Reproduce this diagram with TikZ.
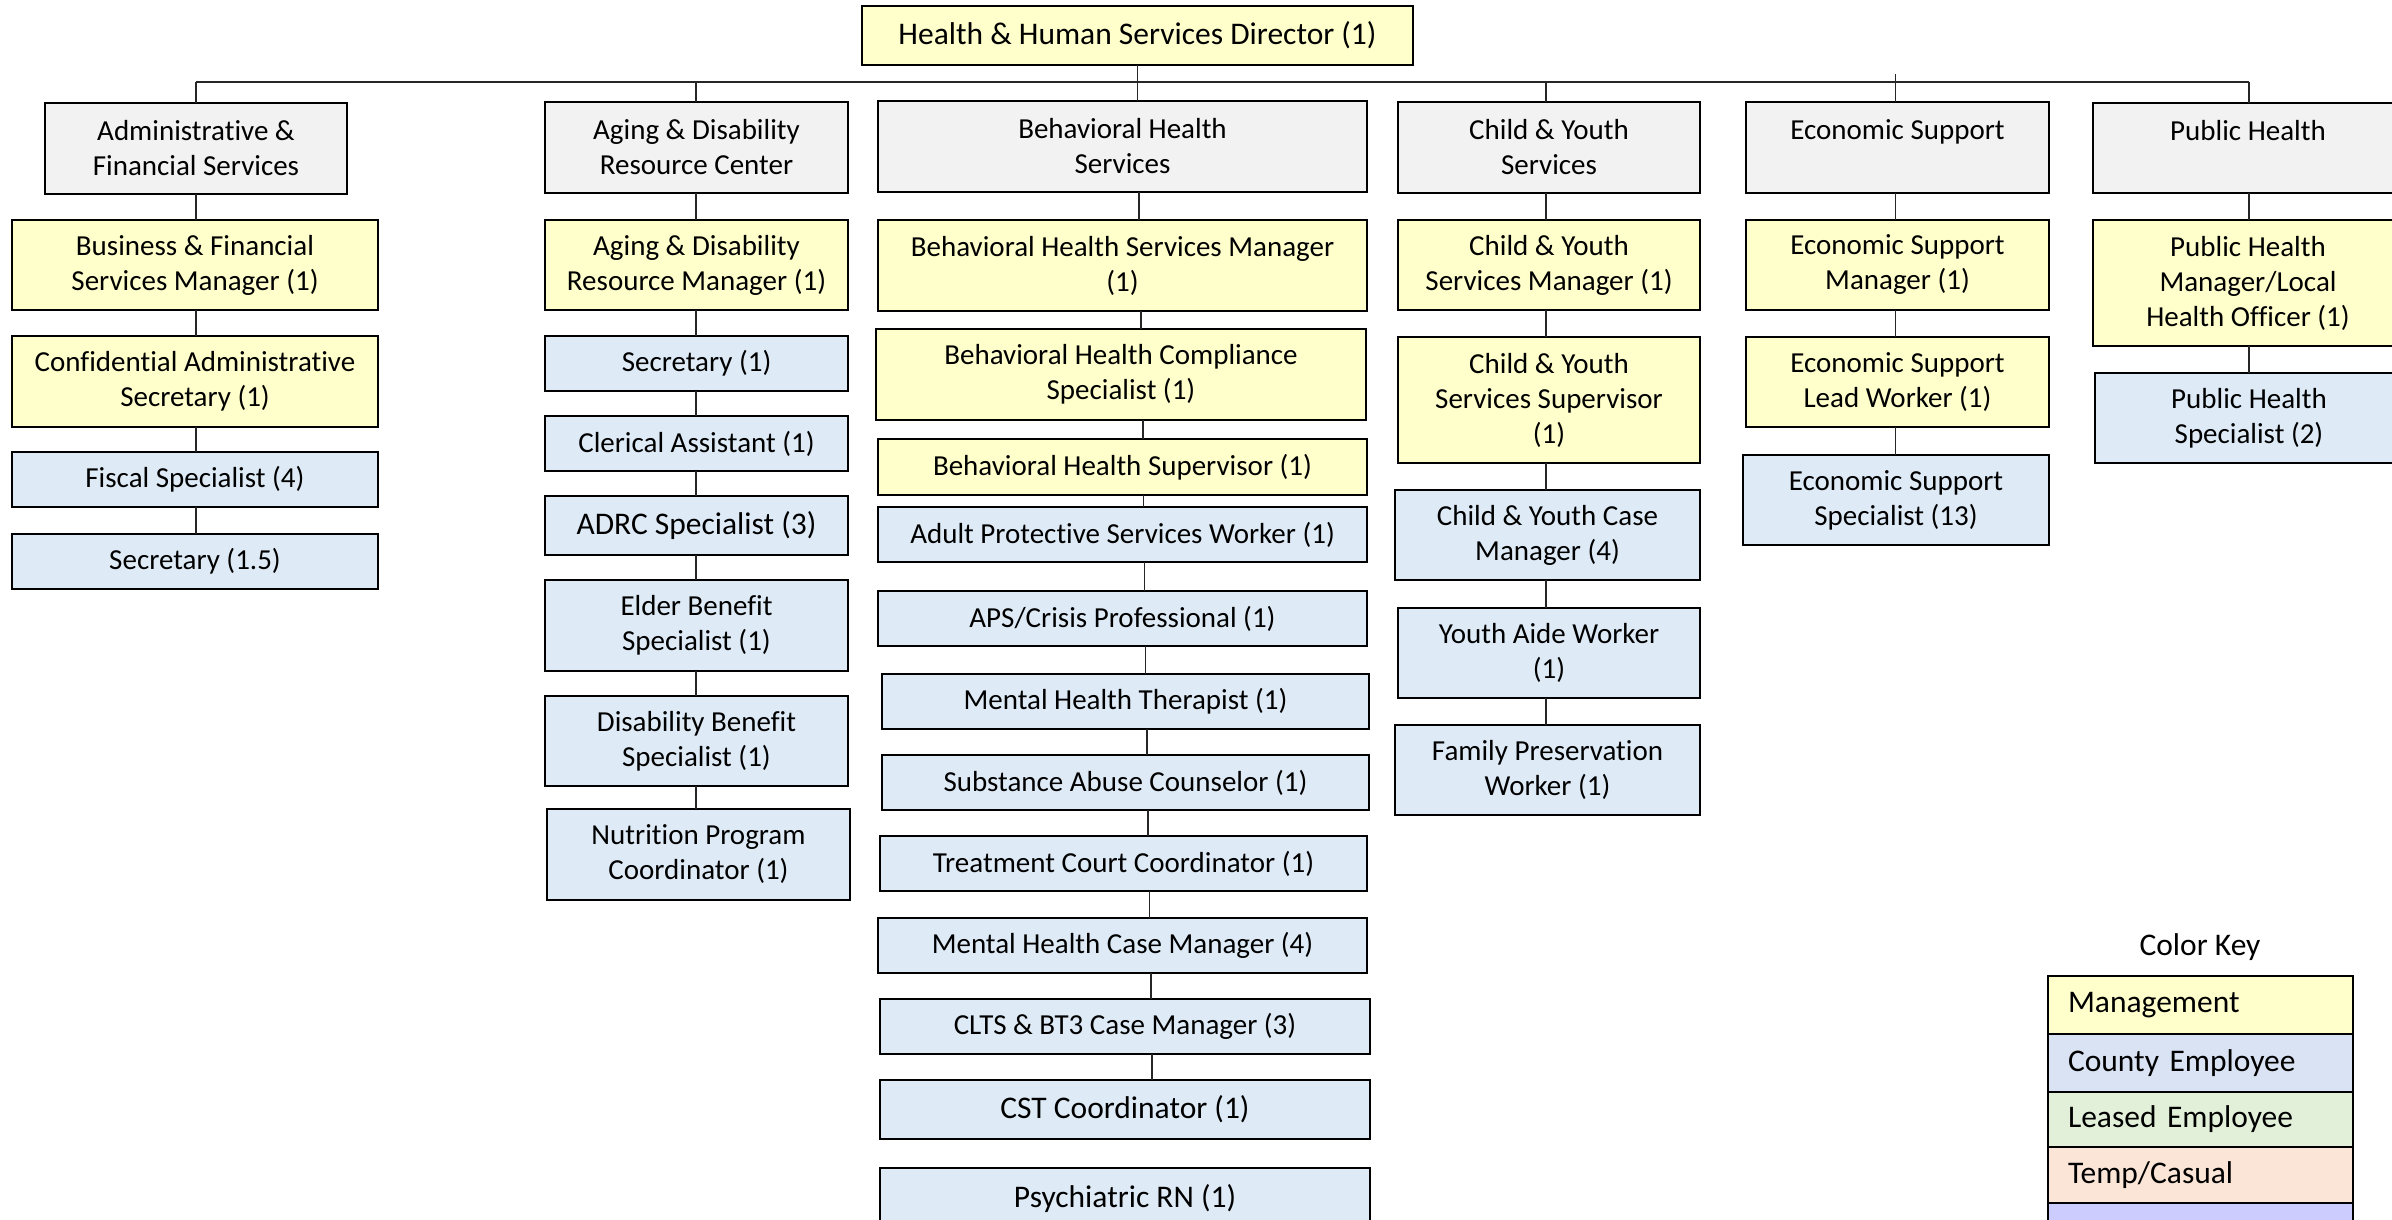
\documentclass[tikz,border=0pt]{standalone}
\usepackage{fontspec}
\setmainfont[Ligatures=NoCommon]{Carlito}
\definecolor{deptgray}{HTML}{F2F2F2}
\definecolor{mgryellow}{HTML}{FFFFCC}
\definecolor{staffblue}{HTML}{DEEBF7}
\definecolor{keyblue}{HTML}{DAE3F3}
\definecolor{keygreen}{HTML}{E2F0D9}
\definecolor{keypeach}{HTML}{FBE5D6}
\definecolor{keyviolet}{HTML}{CCCCFF}
\begin{document}
\begin{tikzpicture}[x=1pt,y=-1pt,
  % box={x1}{y1}{x2}{y2}: a rectangle given by its corners
  box/.style n args={4}{minimum width={(#3)-(#1)}, minimum height={(#4)-(#2)},
    at={({((#1)+(#3))/2},{((#2)+(#4))/2})}},
  unit/.style={draw=black, line width=2pt, inner sep=0pt, outer sep=0pt,
    align=center, text=black, font=\fontsize{29}{35}\selectfont},
  dept/.style={unit, fill=deptgray},
  mgr/.style={unit, fill=mgryellow},
  staff/.style={unit, fill=staffblue},
  big/.style={font=\fontsize{31.5}{37}\selectfont},
  conn/.style={line width=1.3pt, draw=black!85},
  keyrow/.style={draw=black, line width=2pt, outer sep=0pt, inner ysep=0pt,
    inner xsep=20pt, text width=265pt, align=left,
    font=\fontsize{31.5}{37}\selectfont}]

\path[use as bounding box] (0,0) rectangle (2392,1220);
\clip (0,0) rectangle (2392,1220);

% ---- director ----
\node[mgr, big, box={862}{6}{1413}{65}] (dir) {Health \& Human Services Director (1)};

% ---- Administrative & Financial Services ----
\node[dept,  box={45}{103}{347}{194}]  (adm)   {Administrative \&\\Financial Services};
\node[mgr,   box={12}{220}{378}{310}]  (bfsm)  {Business \& Financial\\Services Manager (1)};
\node[mgr,   box={12}{336}{378}{427}]  (cas)   {Confidential Administrative\\Secretary (1)};
\node[staff, box={12}{452}{378}{507}]  (fis)   {Fiscal Specialist (4)};
\node[staff, box={12}{534}{378}{589}]  (sec15) {Secretary (1.5)};

% ---- Aging & Disability Resource Center ----
\node[dept,  box={545}{102}{848}{193}] (adrc)  {Aging \& Disability\\Resource Center};
\node[mgr,   box={545}{220}{848}{310}] (adrm)  {Aging \& Disability\\Resource Manager (1)};
\node[staff, box={545}{336}{848}{391}] (sec1)  {Secretary (1)};
\node[staff, box={545}{416}{848}{471}] (cler)  {Clerical Assistant (1)};
\node[staff, big, box={545}{496}{848}{555}] (adrcs) {ADRC Specialist (3)};
\node[staff, box={545}{580}{848}{671}] (elder) {Elder Benefit\\Specialist (1)};
\node[staff, box={545}{696}{848}{786}] (disab) {Disability Benefit\\Specialist (1)};
\node[staff, box={547}{809}{850}{900}] (nutr)  {Nutrition Program\\Coordinator (1)};

% ---- Behavioral Health Services ----
\node[dept,  box={878}{101}{1367}{192}]  (bhs)   {Behavioral Health\\Services};
\node[mgr,   box={878}{220}{1367}{311}]  (bhm)   {Behavioral Health Services Manager\\(1)};
\node[mgr,   box={876}{329}{1366}{420}]  (bhc)   {Behavioral Health Compliance\\Specialist (1)};
\node[mgr,   box={878}{439}{1367}{495}]  (bhsup) {Behavioral Health Supervisor (1)};
\node[staff, box={878}{507}{1367}{562}]  (apsw)  {Adult Protective Services Worker (1)};
\node[staff, box={878}{591}{1367}{646}]  (aps)   {APS/Crisis Professional (1)};
\node[staff, box={882}{674}{1369}{729}]  (mht)   {Mental Health Therapist (1)};
\node[staff, box={882}{755}{1369}{810}]  (sac)   {Substance Abuse Counselor (1)};
\node[staff, box={880}{836}{1367}{891}]  (tcc)   {Treatment Court Coordinator (1)};
\node[staff, box={878}{918}{1367}{973}]  (mhcm)  {Mental Health Case Manager (4)};
\node[staff, box={880}{999}{1370}{1054}] (clts)  {CLTS \& BT3 Case Manager (3)};
\node[staff, big, box={880}{1080}{1370}{1139}] (cst) {CST Coordinator (1)};
\node[staff, big, box={880}{1168}{1370}{1230}] (prn) {Psychiatric RN (1)};

% ---- Child & Youth Services ----
\node[dept,  box={1398}{102}{1700}{193}] (cys)  {Child \& Youth\\Services};
\node[mgr,   box={1398}{220}{1700}{310}] (cysm) {Child \& Youth\\Services Manager (1)};
\node[mgr,   box={1398}{337}{1700}{463}] (cyss) {Child \& Youth\\Services Supervisor\\(1)};
\node[staff, box={1395}{490}{1700}{580}] (cycm) {Child \& Youth Case\\Manager (4)};
\node[staff, box={1398}{608}{1700}{698}] (yaw)  {Youth Aide Worker\\(1)};
\node[staff, box={1395}{725}{1700}{815}] (fpw)  {Family Preservation\\Worker (1)};

% ---- Economic Support ----
\node[dept,  box={1746}{102}{2049}{193}] (es)   {Economic Support\\\mbox{}};
\node[mgr,   box={1746}{220}{2049}{310}] (esm)  {Economic Support\\Manager (1)};
\node[mgr,   box={1746}{337}{2049}{427}] (eslw) {Economic Support\\Lead Worker (1)};
\node[staff, box={1743}{455}{2049}{545}] (ess)  {Economic Support\\Specialist (13)};

% ---- Public Health ----
\node[dept,  box={2093}{103}{2403}{193}] (ph)   {Public Health\\\mbox{}};
\node[mgr,   box={2093}{220}{2403}{346}] (phm)  {Public Health\\Manager/Local\\Health Officer (1)};
\node[staff, box={2095}{373}{2403}{463}] (phs)  {Public Health\\Specialist (2)};

% ---- connectors ----
\coordinate (c1) at (196,0);
\coordinate (c2) at (696,0);
\coordinate (c4) at (1546,0);
\coordinate (c5) at (1895.5,0);
\coordinate (c6) at (2249,0);
\coordinate (busL) at (196,82);
\coordinate (busR) at (2249,82);
\coordinate (estop) at (1895.5,74);

\draw[conn] (busL) -- (busR);
\draw[conn] (dir.south) -- (bhs.north -| dir.south);
\draw[conn] (c1 |- busL) -- (adm.north -| c1);
\draw[conn] (c2 |- busL) -- (adrc.north -| c2);
\draw[conn] (c4 |- busL) -- (cys.north -| c4);
\draw[conn] (estop) -- (es.north -| estop);
\draw[conn] (c6 |- busL) -- (ph.north -| c6);

\foreach \a/\b in {adm/bfsm, bfsm/cas, cas/fis, fis/sec15}
  \draw[conn] (\a.south -| c1) -- (\b.north -| c1);
\foreach \a/\b in {adrc/adrm, adrm/sec1, sec1/cler, cler/adrcs, adrcs/elder, elder/disab, disab/nutr}
  \draw[conn] (\a.south -| c2) -- (\b.north -| c2);
\foreach \a/\b/\x in {bhs/bhm/1139, bhm/bhc/1141, bhc/bhsup/1143, bhsup/apsw/1143.5,
    apsw/aps/1144.5, aps/mht/1145.5, mht/sac/1147, sac/tcc/1148, tcc/mhcm/1149.5,
    mhcm/clts/1151, clts/cst/1152}
  \draw[conn] (\a.south -| \x,0) -- (\b.north -| \x,0);
\foreach \a/\b in {cys/cysm, cysm/cyss, cyss/cycm, cycm/yaw, yaw/fpw}
  \draw[conn] (\a.south -| c4) -- (\b.north -| c4);
\foreach \a/\b in {es/esm, esm/eslw, eslw/ess}
  \draw[conn] (\a.south -| c5) -- (\b.north -| c5);
\foreach \a/\b in {ph/phm, phm/phs}
  \draw[conn] (\a.south -| c6) -- (\b.north -| c6);

% ---- colour key ----
\node[font=\fontsize{31.5}{37}\selectfont] (keytitle) at (2200,947) {Color Key};
\node[keyrow, fill=mgryellow, box={2048}{976}{2353}{1034}]  (kmgmt)   {Management};
\node[keyrow, fill=keyblue,   box={2048}{1034}{2353}{1092}] (kcounty) {County Employee};
\node[keyrow, fill=keygreen,  box={2048}{1092}{2353}{1147}] (kleased) {Leased Employee};
\node[keyrow, fill=keypeach,  box={2048}{1147}{2353}{1203}] (ktemp)   {Temp/Casual};
\node[keyrow, fill=keyviolet, box={2048}{1203}{2353}{1262}] (kother)  {};
\end{tikzpicture}
\end{document}
